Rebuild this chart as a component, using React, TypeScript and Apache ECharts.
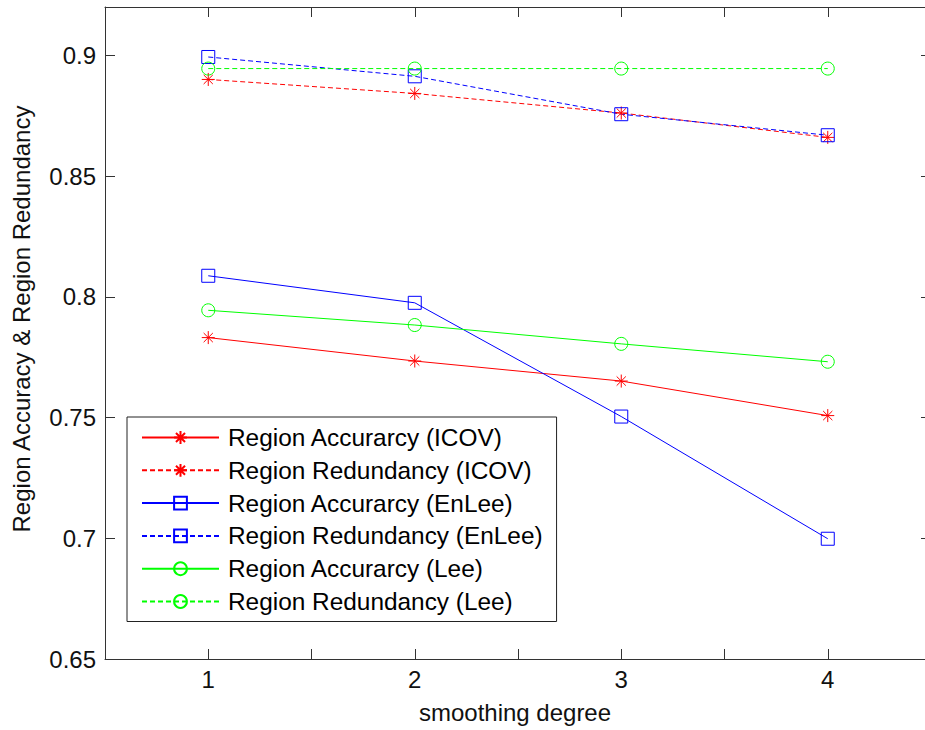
import React, { useEffect, useRef } from "react";
import * as echarts from "echarts";

const xValues = [1, 2, 3, 4];
const xTickValues = [1, 1.5, 2, 2.5, 3, 3.5, 4];
const yTickValues = [0.65, 0.7, 0.75, 0.8, 0.85, 0.9];

const icovAccuracy = [0.7831, 0.7734, 0.7651, 0.7508];
const icovRedundancy = [0.89, 0.8842, 0.8761, 0.866];
const enleeAccuracy = [0.8087, 0.7975, 0.7504, 0.6998];
const enleeRedundancy = [0.8993, 0.8913, 0.8756, 0.8669];
const leeAccuracy = [0.7944, 0.7883, 0.7805, 0.7731];
const leeRedundancy = [0.8945, 0.8945, 0.8945, 0.8945];

const seriesNames = [
  "Region Accurarcy (ICOV)",
  "Region Redundancy (ICOV)",
  "Region Accurarcy (EnLee)",
  "Region Redundancy (EnLee)",
  "Region Accurarcy (Lee)",
  "Region Redundancy (Lee)",
];

const FONT = "'Liberation Sans', Arial, sans-serif";
const AXIS_COLOR = "#333";
const ASTERISK =
  "path://M10,0L10,20M0,10L20,10M2.93,2.93L17.07,17.07M2.93,17.07L17.07,2.93";

function makeSeries(
  name: string,
  values: number[],
  color: string,
  symbol: string,
  dashed: boolean
) {
  return {
    name,
    type: "line",
    data: xValues.map((x, i) => [x, values[i]]),
    symbol,
    symbolSize: 13,
    showSymbol: true,
    lineStyle: {
      color,
      width: 1,
      type: dashed ? [5, 3] : "solid",
    },
    itemStyle: {
      color: "rgba(0,0,0,0)",
      borderColor: color,
      borderWidth: 1,
    },
    emphasis: { disabled: true },
  };
}

export default function App() {
  const ref = useRef<HTMLDivElement>(null);

  useEffect(() => {
    if (!ref.current) return;
    const chart = echarts.init(ref.current, null, { renderer: "svg" });
    const axisCommon = {
      axisLine: { show: true, lineStyle: { color: AXIS_COLOR, width: 1 } },
      splitLine: { show: false },
    };
    chart.setOption({
      animation: false,
      backgroundColor: "#fff",
      textStyle: { fontFamily: FONT },
      grid: {
        left: 105,
        top: 7,
        width: 826,
        bottom: 71,
        containLabel: false,
        outerBoundsMode: "none",
      },
      legend: {
        orient: "vertical",
        left: 127,
        top: 417,
        data: seriesNames,
        itemWidth: 77,
        itemHeight: 16,
        itemGap: 8.8,
        padding: [8.5, 14, 8, 14],
        borderColor: "#222",
        borderWidth: 1,
        backgroundColor: "#fff",
        selectedMode: false,
        textStyle: {
          fontFamily: FONT,
          fontSize: 24.4,
          lineHeight: 24,
          color: "#000",
          padding: [0, 0, 0, 4],
        },
      },
      xAxis: [
        {
          type: "value",
          min: 0.5,
          max: 4.5,
          position: "bottom",
          ...axisCommon,
          axisTick: {
            show: true,
            inside: true,
            length: 10,
            customValues: xTickValues,
            lineStyle: { color: AXIS_COLOR },
          },
          axisLabel: {
            show: true,
            customValues: xValues,
            fontSize: 24,
            fontFamily: FONT,
            color: "#111",
            margin: 8,
          },
          name: "smoothing degree",
          nameLocation: "middle",
          nameGap: 41,
          nameTextStyle: {
            fontSize: 24,
            fontFamily: FONT,
            color: "#111",
            padding: [0, 6, 0, 0],
          },
        },
        {
          type: "value",
          min: 0.5,
          max: 4.5,
          position: "top",
          ...axisCommon,
          axisTick: {
            show: true,
            inside: true,
            length: 10,
            customValues: xTickValues,
            lineStyle: { color: AXIS_COLOR },
          },
          axisLabel: { show: false },
        },
      ],
      yAxis: [
        {
          type: "value",
          min: 0.65,
          max: 0.92,
          position: "left",
          ...axisCommon,
          axisTick: {
            show: true,
            inside: true,
            length: 10,
            customValues: yTickValues,
            lineStyle: { color: AXIS_COLOR },
          },
          axisLabel: {
            show: true,
            customValues: yTickValues,
            fontSize: 24,
            fontFamily: FONT,
            color: "#111",
            margin: 9,
            formatter: (v: number) => String(Math.round(v * 100) / 100),
          },
          name: "Region Accuracy & Region Redundancy",
          nameLocation: "middle",
          nameGap: 72,
          nameTextStyle: {
            fontSize: 24,
            fontFamily: FONT,
            color: "#111",
            padding: [0, 0, 0, 28],
          },
        },
        {
          type: "value",
          min: 0.65,
          max: 0.92,
          position: "right",
          ...axisCommon,
          axisTick: {
            show: true,
            inside: true,
            length: 10,
            customValues: yTickValues,
            lineStyle: { color: AXIS_COLOR },
          },
          axisLabel: { show: false },
        },
      ],
      series: [
        makeSeries(seriesNames[0], icovAccuracy, "#ff0000", ASTERISK, false),
        makeSeries(seriesNames[1], icovRedundancy, "#ff0000", ASTERISK, true),
        makeSeries(seriesNames[2], enleeAccuracy, "#0000ff", "rect", false),
        makeSeries(seriesNames[3], enleeRedundancy, "#0000ff", "rect", true),
        makeSeries(seriesNames[4], leeAccuracy, "#00ff00", "circle", false),
        makeSeries(seriesNames[5], leeRedundancy, "#00ff00", "circle", true),
      ],
    });
    return () => chart.dispose();
  }, []);

  return (
    <div
      ref={ref}
      style={{
        width: 925,
        height: 730,
        position: "absolute",
        left: 0,
        top: 0,
        background: "#fff",
      }}
    />
  );
}
